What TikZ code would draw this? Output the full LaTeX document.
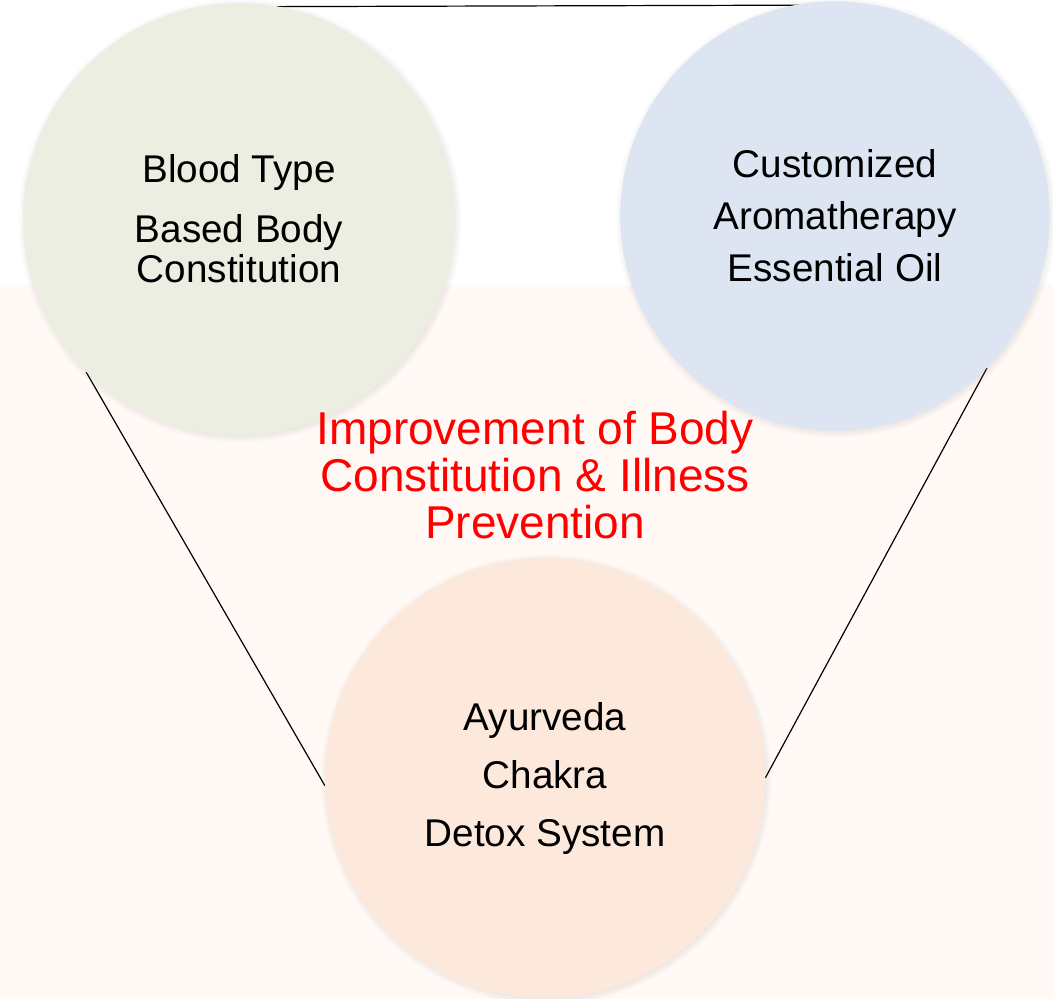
\documentclass[tikz,border=0pt]{standalone}
\usepackage{fontspec}
\setmainfont{Liberation Sans}
\usepackage{xcolor}
\usetikzlibrary{shadows,backgrounds,patterns}

\definecolor{bloodgreen}{RGB}{235,238,224}
\definecolor{aromablue}{RGB}{220,229,241}
\definecolor{detoxpeach}{RGB}{252,233,220}
\definecolor{stripepeach}{RGB}{254,242,234}
\definecolor{groundtint}{RGB}{255,253,251}

\begin{document}
\begin{tikzpicture}[x=0.75pt, y=-0.75pt,
  bubble/.style={circle, minimum size=#1, inner sep=0pt, align=center,
    font=\fontsize{29}{39}\selectfont,
    circular drop shadow={shadow scale=1.025, shadow xshift=0.6pt,
      shadow yshift=-1pt, opacity=0.6}},
  tieline/.style={black, line width=0.9pt}]
  \useasboundingbox (0,0) rectangle (1053,999);

  % The three circles
  \node[bubble=324pt, fill=bloodgreen] (blood) at (239,219)
    {Blood Type\\[6pt]Based Body\\[-9pt]Constitution};
  \node[bubble=322pt, fill=aromablue] (aroma) at (835,216)
    {Customized\\Aromatherapy\\Essential Oil};
  \node[bubble=330pt, fill=detoxpeach, font=\fontsize{29}{43.5}\selectfont]
    (detox) at (545,778) {Ayurveda\\Chakra\\Detox System};

  % Title in the middle
  \node[red, align=center, font=\fontsize{34.5}{35.25}\selectfont] (goal) at (535,475)
    {Improvement of Body\\Constitution \& Illness\\Prevention};

  \begin{scope}[on background layer]
    % Striped ground under the lower part
    \fill[white] (0,0) rectangle (1053,999);
    \fill[groundtint] (0,285) rectangle (1053,999);
    \fill[pattern=north east lines, pattern color=stripepeach] (0,285) rectangle (1053,999);

    % Lines tying the circles together
    \draw[tieline] ([yshift=-3pt]blood.north) -- ([yshift=-3pt]aroma.north);
    \draw[tieline] (blood.225) -- (detox.182);
    \draw[tieline] (aroma.315) -- (detox.0);
  \end{scope}
\end{tikzpicture}
\end{document}
